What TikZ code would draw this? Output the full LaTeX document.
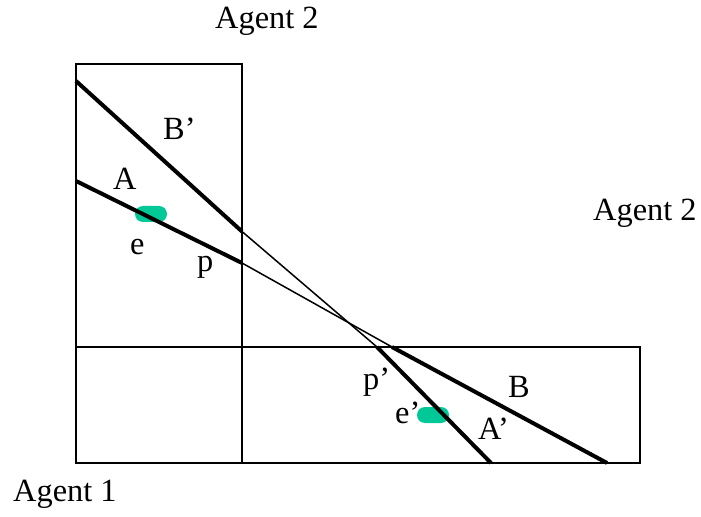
\documentclass[tikz,border=0pt]{standalone}
\usepackage{fontspec}
\setmainfont{Liberation Serif}
\usetikzlibrary{positioning}
\definecolor{ink}{HTML}{000000}
\definecolor{bundle}{HTML}{00C896}
\tikzset{
  frame/.style={
    draw=ink,
    line width=2bp
  },
  budget/.style={
    draw=ink,
    line width=4bp
  },
  link/.style={
    draw=ink,
    line width=1.5bp
  },
  pill/.style={
    rectangle,
    rounded corners=8bp,
    fill=bundle,
    minimum width=32bp,
    minimum height=16bp,
    inner sep=0pt
  },
  labeltext/.style={
    font=\fontsize{32.5}{38}\selectfont,
    text=ink,
    inner sep=0pt,
    anchor=base west
  }
}

\begin{document}
\begin{tikzpicture}[x=1bp,y=-1bp]
  \useasboundingbox (0,0) rectangle (701,517);

  % the two boxes
  \draw[frame] (76,64) rectangle (242,463);
  \draw[frame] (76,347) rectangle (640,463);

  % endowment points
  \node[pill] (endow) at (151,214) {};
  \node[pill] (endowr) at (433,415) {};

  % budget line B' / A'
  \coordinate (b1) at (76,81);
  \coordinate (b2) at (242,231.5);
  \coordinate (b3) at (377,347);
  \coordinate (b4) at (491,463);
  \draw[budget] (b1) -- (b2);
  \draw[link] (b2) -- (b3);
  \draw[budget] (b3) -- (b4);

  % budget line A / B
  \coordinate (a1) at (76,181);
  \coordinate (a2) at (242,263);
  \coordinate (a3) at (392,347);
  \coordinate (a4) at (607,463);
  \draw[budget] (a1) -- (a2);
  \draw[link] (a2) -- (a3);
  \draw[budget] (a3) -- (a4);

  % labels
  \node[labeltext] (agtop) at (215,29) {Agent 2};
  \node[labeltext] (agright) at (593,221) {Agent 2};
  \node[labeltext] (agone) at (13,501) {Agent 1};
  \node[labeltext] (lbB') at (163,140) {B’};
  \node[labeltext] (lbA) at (113,190) {A};
  \node[labeltext] (lbe) at (130,255) {e};
  \node[labeltext] (lbp) at (197,272) {p};
  \node[labeltext] (lbp') at (363,389) {p’};
  \node[labeltext] (lbB) at (508,397) {B};
  \node[labeltext] (lbe') at (395,423) {e’};
  \node[labeltext] (lbA') at (478,439) {A’};
\end{tikzpicture}
\end{document}
